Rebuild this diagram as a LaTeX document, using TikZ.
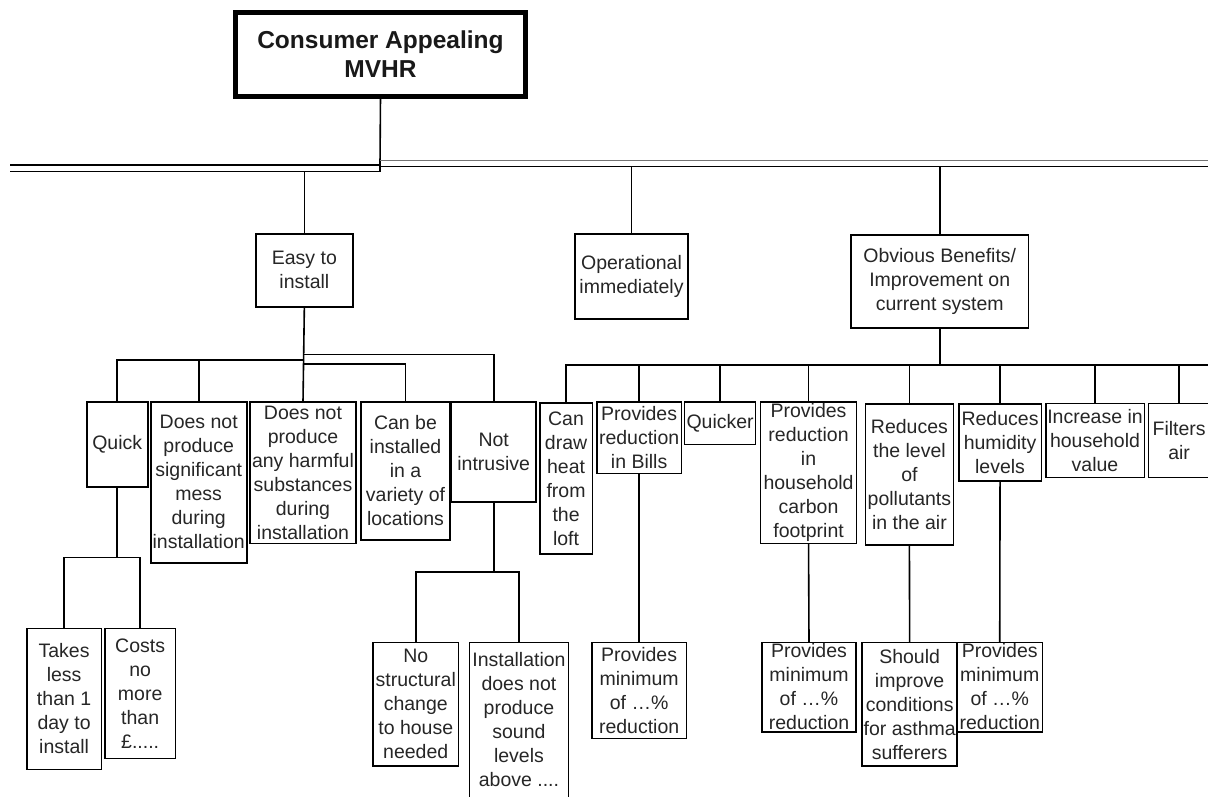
\documentclass[tikz,border=0pt]{standalone}
\usepackage{fontspec}
\setmainfont{Liberation Sans}
\newcommand\drawbox[6]{%
  \node[box, minimum width={#4-#2}, minimum height={#5-#3}] (#1) at ({(#2+#4)/2},{(#3+#5)/2}) {};
  \node[txt] (#1-t) at (#1.center) {#6};
}
\begin{document}
\begin{tikzpicture}[x=1pt,y=-1pt,
  ln/.style={line width=1.6pt, draw=black},
  box/.style={draw=black, line width=1.6pt, inner sep=0pt, outer sep=0pt},
  txt/.style={align=center, inner sep=0pt, font=\fontsize{19.5}{24}\selectfont, text=black!85},
  rootbox/.style={draw=black, line width=5pt, inner sep=0pt, outer sep=0pt, align=center,
    font=\fontsize{24.5}{29}\selectfont\bfseries, text=black!90, minimum width=290pt, minimum height=84pt}]
\useasboundingbox (0,0) rectangle (1208,796);
\fill[white] (0,0) rectangle (1208,796);
\clip (0,0) rectangle (1208,796);

% root
\node[rootbox] (root) at (380.5,54.5) {Consumer Appealing\\MVHR};

% level 1
\drawbox{easy}{256}{234}{352.7}{306.7}{Easy to\\install}
\drawbox{oper}{575}{234}{688}{319}{Operational\\immediately}
\drawbox{obvious}{851}{235}{1028.5}{328}{Obvious Benefits/\\Improvement on\\current system}

% level 2 (easy)
\drawbox{quick}{86.7}{402}{147.7}{486.7}{Quick}
\drawbox{mess}{150.7}{402}{246.7}{562.7}{Does not\\produce\\significant\\mess\\during\\installation}
\drawbox{harm}{250}{402}{356}{543.3}{Does not\\produce\\any harmful\\substances\\during\\installation}
\drawbox{canbe}{361}{402}{450}{540}{Can be\\installed\\in a\\variety of\\locations}
\drawbox{notintr}{451.6}{402}{535.8}{501.7}{Not\\intrusive}

% level 3 (easy)
\drawbox{takes}{26.8}{628.3}{101.4}{769.3}{Takes\\less\\than 1\\day to\\install}
\drawbox{costs}{105}{628.3}{175.3}{758.3}{Costs\\no\\more\\than\\£.....}
\drawbox{nostruct}{373}{642.3}{458.5}{766}{No\\structural\\change\\to house\\needed}
\drawbox{instal}{469.6}{642.3}{568.3}{797.5}{Installation\\does not\\produce\\sound\\levels\\above ....}

% level 2 (obvious)
\drawbox{candraw}{539.7}{402.7}{592.4}{554}{Can\\draw\\heat\\from\\the\\loft}
\drawbox{bills}{596.8}{402}{681.5}{473.3}{Provides\\reduction\\in Bills}
\drawbox{quicker}{684.6}{402}{755.6}{444.3}{Quicker}
\drawbox{carbon}{760.5}{402}{856.6}{543.3}{Provides\\reduction\\in\\household\\carbon\\footprint}
\drawbox{pollut}{865.3}{404}{953.5}{545}{Reduces\\the level\\of\\pollutants\\in the air}
\drawbox{humid}{958.8}{404}{1041.3}{481}{Reduces\\humidity\\levels}
\drawbox{increase}{1045.7}{403.3}{1144.3}{477.5}{Increase in\\household\\value}
\drawbox{filters}{1148.3}{403.3}{1210}{477.5}{Filters\\air}

% level 3 (obvious)
\drawbox{minA}{591.7}{642.3}{686.6}{738.3}{Provides\\minimum\\of …\%\\reduction}
\drawbox{minB}{762}{642.3}{856}{731.7}{Provides\\minimum\\of …\%\\reduction}
\drawbox{should}{862.2}{642.3}{957.1}{766}{Should\\improve\\conditions\\for asthma\\sufferers}
\drawbox{minC}{957}{642.3}{1042.5}{731.7}{Provides\\minimum\\of …\%\\reduction}

% bus coordinates
\coordinate (j0) at (380,165);
\coordinate (l0) at (10,165);
\coordinate (j1) at (380,171.5);
\coordinate (dlL) at (10,171.5);
\coordinate (r0) at (380,160.5);
\coordinate (r0e) at (1208,160.5);
\coordinate (r1) at (380,166.5);
\coordinate (dlR) at (1208,166.5);
\coordinate (yE1) at (0,360);
\coordinate (yE2) at (0,354.3);
\coordinate (yE3) at (0,364);
\coordinate (yQ) at (0,557.3);
\coordinate (yN) at (0,571.7);
\coordinate (yO) at (1208,365);

% root double bus
\draw[ln] (root.south) -- (j0) -- (l0);
\draw[ln] (dlL) -- (j1) -- (j0);
\draw[line width=1.3pt, draw=black!55] (r0) -- (r0e);
\draw[ln] (r1) -- (dlR);

% level 1 connectors
\draw[ln] (easy.north) -- (easy.north |- dlL);
\draw[ln] (oper.north) -- (oper.north |- dlR);
\draw[ln] (obvious.north) -- (obvious.north |- dlR);

% easy connectors
\draw[ln] (easy.south) -- (harm.north);
\draw[ln] (easy.south |- yE1) -| (quick.north);
\draw[ln] (mess.north |- yE1) -- (mess.north);
\draw[ln] (easy.south |- yE2) -| (notintr.north);
\draw[ln] (easy.south |- yE3) -| (canbe.north);

% quick connectors
\draw[ln] (quick.south) -- (quick.south |- yQ);
\draw[ln] (takes.north) |- (costs.north |- yQ) -- (costs.north);

% not intrusive connectors
\draw[ln] (notintr.south) -- (notintr.south |- yN);
\draw[ln] (nostruct.north) |- (instal.north |- yN) -- (instal.north);

% obvious connectors
\draw[ln] (obvious.south) -- (obvious.south |- yO);
\draw[ln] (candraw.north) |- (yO);
\foreach \n in {bills,quicker,carbon,pollut,humid,increase,filters}
  \draw[ln] (\n.north) -- (\n.north |- yO);

% level 3 obvious connectors
\draw[ln] (bills.south) -- (minA.north);
\draw[ln] (carbon.south) -- (minB.north);
\draw[ln] (pollut.south) -- (should.north);
\draw[ln] (humid.south) -- (minC.north);
\end{tikzpicture}
\end{document}
